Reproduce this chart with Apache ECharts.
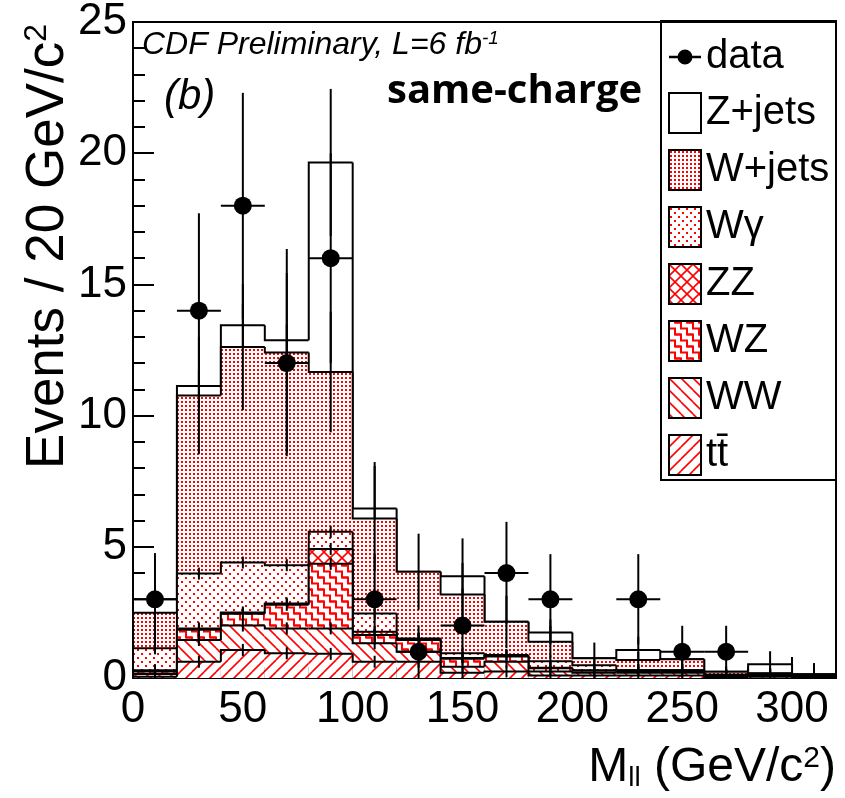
<!DOCTYPE html>
<html><head><meta charset="utf-8">
<script src="https://cdn.jsdelivr.net/npm/echarts@6/dist/echarts.min.js"></script>
<style>html,body{margin:0;padding:0;background:#fff}#c{width:845px;height:798px}</style>
</head><body><div id="c"></div>
<script>
// ---------- data ----------
const binLow = [0,20,40,60,80,100,120,140,160,180,200,220,240,260,280,300];
const binWidth = 20;
// per-bin contributions of each stacked component (events / 20 GeV)
const ttbar  = [0.05,0.62,1.07,0.94,0.92,0.62,0.62,0.20,0.25,0.10,0.10,0.10,0.10,0.04,0.05,0.03];
const ww     = [0.10,0.83,0.93,0.95,0.97,0.70,0.38,0.23,0.37,0.15,0.10,0.10,0.10,0.04,0.05,0.03];
const wz     = [0.10,0.39,0.45,0.90,2.46,0.32,0.45,0.30,0.20,0.12,0.08,0.05,0.05,0.02,0.04,0.02];
const zz     = [0.05,0.05,0.05,0.05,0.57,0.12,0.03,0.03,0.02,0.02,0.02,0.05,0.05,0.02,0.02,0.01];
const wgamma = [0.83,2.09,1.90,1.46,0.65,0.70,0.03,0.18,0.04,0.25,0.19,0.00,0.00,0.00,0.00,0.00];
const wjets  = [1.36,6.79,8.21,8.10,6.09,3.62,2.54,2.24,1.26,0.74,0.26,0.39,0.41,0.12,0.02,0.05];
const zjets  = [0.51,0.36,0.83,0.47,7.99,0.38,0.00,0.70,0.00,0.35,0.00,0.38,0.00,0.00,0.34,0.00];
// MC statistical error bars drawn on the top of the W+jets and Z+jets layers
const mcErrW = [0.90,2.24,2.40,3.95,2.30,2.00,1.45,1.20,1.00,0.60,0.60,0.30,0.30,0.20,0.10,0.43];
const mcErrZ = [0.50,0.60,0.80,0.60,2.80,1.77,0.00,1.44,0.00,0.50,0.00,0.50,0.00,0.00,0.50,0.00];
// observed data
const dataX   = [10,30,50,70,90,110,130,150,170,190,230,250,270];
const dataY   = [3,14,18,12,16,3,1,2,4,3,3,1,1];
const dataErr = [1.76,3.71,4.30,3.43,4.00,1.73,1.00,1.41,1.95,1.72,1.72,0.99,0.99];
// axis ticks
const xTicks = [0,50,100,150,200,250,300];
const yTicks = [0,5,10,15,20,25];

// ---------- styles ----------
const FONT = "'Liberation Sans', Arial, Helvetica, sans-serif";
const RED = '#ff0000';
function pat(size, draw){
  const c = document.createElement('canvas');
  c.width = size; c.height = size;
  const ctx = c.getContext('2d');
  ctx.fillStyle = '#fff'; ctx.fillRect(0,0,size,size);
  draw(ctx, size);
  return {image: c, repeat: 'repeat'};
}
function strokeRepeated(ctx, size, pts, w){
  ctx.strokeStyle = RED; ctx.lineWidth = w;
  for (let dx=-size; dx<=size; dx+=size) for (let dy=-size; dy<=size; dy+=size){
    ctx.beginPath();
    pts.forEach((p,i)=>{ i ? ctx.lineTo(p[0]+dx,p[1]+dy) : ctx.moveTo(p[0]+dx,p[1]+dy); });
    ctx.stroke();
  }
}
const fills = {
  zjets: '#ffffff',
  wjets: pat(4, ctx => { ctx.fillStyle = RED; ctx.fillRect(1,1,2,2); }),
  wgamma: pat(8, ctx => { ctx.fillStyle = RED; ctx.fillRect(1,1,2,2); ctx.fillRect(5,5,2,2); }),
  zz: pat(12, (ctx,s) => { strokeRepeated(ctx,s,[[0,0],[12,12]],1.6); strokeRepeated(ctx,s,[[0,12],[12,0]],1.6); }),
  wz: pat(12, (ctx,s) => { strokeRepeated(ctx,s,[[-6,1.5],[0,1.5],[0,7.5],[6,7.5],[6,13.5],[12,13.5]],2); }),
  ww: pat(12, (ctx,s) => { strokeRepeated(ctx,s,[[0,0],[12,12]],1.6); }),
  tt: pat(12, (ctx,s) => { strokeRepeated(ctx,s,[[0,12],[12,0]],1.6); })
};

// components, listed top of stack first (drawing order)
const comps = [
  {name:'Z+jets', vals:zjets,  fill:fills.zjets,  err:mcErrZ},
  {name:'W+jets', vals:wjets,  fill:fills.wjets,  err:mcErrW},
  {name:'Wγ',     vals:wgamma, fill:fills.wgamma, err:null},
  {name:'ZZ',     vals:zz,     fill:fills.zz,     err:null},
  {name:'WZ',     vals:wz,     fill:fills.wz,     err:null},
  {name:'WW',     vals:ww,     fill:fills.ww,     err:null},
  {name:'t\u0074\u0304', vals:ttbar, fill:fills.tt, err:null}
];
// cumulative stack, bottom first
const nb = binLow.length;
let running = new Array(nb).fill(0);
for (let k = comps.length-1; k >= 0; k--){
  const c = comps[k];
  c.base = running.slice();
  c.top = running.map((v,j)=>v + c.vals[j]);
  running = c.top.slice();
}

function histSeries(c){
  const data = binLow.map((x0,j)=>[
    x0, x0+binWidth, c.base[j], c.top[j], j>0 ? c.top[j-1] : 0,
    c.err ? c.err[j] : -1, j===nb-1 ? 1 : 0
  ]);
  return {
    type:'custom', name:c.name, data, clip:true,
    encode:{x:[0,1], y:[2,3]},
    itemStyle:{color:c.fill, borderColor:'#000', borderWidth:2},
    renderItem:(params, api)=>{
      const x0=api.value(0), x1=api.value(1), b=api.value(2), t=api.value(3), p=api.value(4), e=api.value(5), last=api.value(6);
      const A = api.coord([x0,b]), B = api.coord([x1,t]);
      const ch = [];
      if (t > b) ch.push({type:'rect', shape:{x:A[0], y:B[1], width:B[0]-A[0], height:A[1]-B[1]}, style:{fill:c.fill}});
      const pts = [api.coord([x0,p]), api.coord([x0,t]), api.coord([x1,t])];
      if (last) pts.push(api.coord([x1,0]));
      ch.push({type:'polyline', shape:{points:pts}, style:{stroke:'#000', lineWidth:2, fill:null}});
      const xc = api.coord([(x0+x1)/2, t])[0];
      let y1, y2;
      if (e >= 0){ y1 = api.coord([x0, Math.max(b, t-e)])[1]; y2 = api.coord([x0, t+e])[1]; }
      else { const yc = api.coord([x0,t])[1]; y1 = Math.min(api.coord([x0,b])[1], yc+6); y2 = yc-6; }
      if (y1 - y2 > 0.5) ch.push({type:'line', shape:{x1:xc, y1:y1, x2:xc, y2:y2}, style:{stroke:'#000', lineWidth:2}});
      return {type:'group', children:ch};
    }
  };
}

const series = comps.map(histSeries);
series.push({
  type:'custom', name:'data', clip:false,
  data: dataX.map((x,i)=>[x, dataY[i], dataErr[i]]),
  encode:{x:0, y:1},
  itemStyle:{color:'#000'},
  renderItem:(params, api)=>{
    const x=api.value(0), y=api.value(1), e=api.value(2);
    const c = api.coord([x,y]);
    const l = api.coord([x-binWidth/2,y]), r = api.coord([x+binWidth/2,y]);
    const tp = api.coord([x,y+e]), bt = api.coord([x,Math.max(0,y-e)]);
    return {type:'group', children:[
      {type:'line', shape:{x1:l[0], y1:c[1], x2:r[0], y2:c[1]}, style:{stroke:'#000', lineWidth:2}},
      {type:'line', shape:{x1:c[0], y1:tp[1], x2:c[0], y2:bt[1]}, style:{stroke:'#000', lineWidth:2}},
      {type:'circle', shape:{cx:c[0], cy:c[1], r:9}, style:{fill:'#000'}}
    ]};
  }
});

const axisLabelStyle = {fontSize:44, color:'#000', fontFamily:FONT};
const option = {
  animation:false,
  backgroundColor:'#fff',
  grid:{left:133, top:21, width:703, height:657, show:true, borderColor:'#000', borderWidth:2, backgroundColor:'transparent'},
  xAxis:[
    {type:'value', min:0, max:320, interval:50, position:'bottom',
     axisLine:{lineStyle:{color:'#000', width:2}},
     axisTick:{inside:true, length:21, lineStyle:{color:'#000', width:2}},
     splitLine:{show:false},
     axisLabel:Object.assign({margin:10, showMaxLabel:false,
       formatter:v=> xTicks.indexOf(v) >= 0 ? String(v) : ''}, axisLabelStyle)},
    {type:'value', min:0, max:320, interval:10, position:'bottom',
     axisLine:{show:false}, axisLabel:{show:false}, splitLine:{show:false},
     axisTick:{inside:true, length:11, lineStyle:{color:'#000', width:2}}}
  ],
  yAxis:[
    {type:'value', min:0, max:25, interval:5, position:'left',
     axisLine:{show:true, lineStyle:{color:'#000', width:2}},
     axisTick:{show:true, inside:true, length:21, lineStyle:{color:'#000', width:2}},
     splitLine:{show:false},
     axisLabel:Object.assign({margin:6, formatter:v=> yTicks.indexOf(v) >= 0 ? String(v) : ''}, axisLabelStyle)},
    {type:'value', min:0, max:25, interval:1, position:'left',
     axisLine:{show:false}, axisLabel:{show:false}, splitLine:{show:false},
     axisTick:{show:true, inside:true, length:12, lineStyle:{color:'#000', width:2}}}
  ],
  legend:{
    left:668, top:37, orient:'vertical', itemWidth:32, itemHeight:40, itemGap:15,
    selectedMode:false, padding:0,
    textStyle:{fontSize:40, fontFamily:FONT, color:'#000'},
    itemStyle:{borderColor:'#000', borderWidth:2},
    data:[
      {name:'data', icon:'path://M0,8h32v2.4h-32z M23.5,9.2a7.5,7.5 0 1,1 -15,0a7.5,7.5 0 1,1 15,0z', itemStyle:{color:'#000', borderWidth:0}},
      {name:'Z+jets', icon:'rect'},
      {name:'W+jets', icon:'rect'},
      {name:'Wγ', icon:'rect'},
      {name:'ZZ', icon:'rect'},
      {name:'WZ', icon:'rect'},
      {name:'WW', icon:'rect'},
      {name:'t\u0074\u0304', icon:'rect'}
    ]
  },
  graphic:[
    {type:'rect', shape:{x:661, y:21, width:175, height:459}, style:{fill:null, stroke:'#000', lineWidth:2}, z:10},
    {type:'text', x:142, y:29, z:10, style:{
      text:'{t|CDF Preliminary, L=6 fb}{s|-1}', textVerticalAlign:'top',
      rich:{t:{fontSize:32, fontStyle:'italic', fontFamily:FONT, fill:'#000'},
            s:{fontSize:19, fontStyle:'italic', fontFamily:FONT, fill:'#000', verticalAlign:'top'}}}},
    {type:'text', x:164, y:76, z:10, style:{text:'(b)', fontSize:42, fontStyle:'italic', fontFamily:FONT, fill:'#000', textVerticalAlign:'top'}},
    {type:'text', x:387, y:72, z:10, style:{text:'same-charge', fontSize:40, fontWeight:'bold', fontFamily:"'Open Sans', sans-serif", fill:'#000', textVerticalAlign:'top'}},
    {type:'text', x:48, y:24, rotation:Math.PI/2, z:10, style:{
      text:'{t|Events / 20 GeV/c}{s|2}', textAlign:'right', textVerticalAlign:'middle',
      rich:{t:{fontSize:53, fontFamily:FONT, fill:'#000'}, s:{fontSize:32, fontFamily:FONT, fill:'#000', verticalAlign:'top'}}}},
    {type:'text', x:836, y:768, z:10, style:{
      text:'{t|M}{u|ll}{t| (GeV/c}{s|2}{t|)}', textAlign:'right', textVerticalAlign:'middle',
      rich:{t:{fontSize:48, fontFamily:FONT, fill:'#000'}, u:{fontSize:28, fontFamily:FONT, fill:'#000', verticalAlign:'bottom'},
            s:{fontSize:30, fontFamily:FONT, fill:'#000', verticalAlign:'top'}}}}
  ],
  series
};
const chart = echarts.init(document.getElementById('c'), null, {renderer:'canvas'});
chart.setOption(option);
</script></body></html>
